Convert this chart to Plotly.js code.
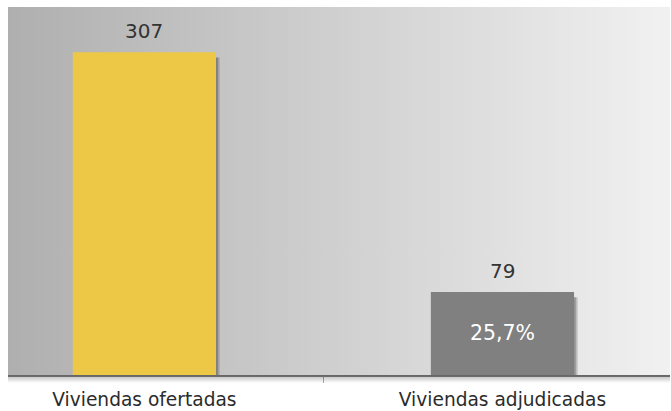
<!DOCTYPE html>
<html>
<head>
<meta charset="utf-8">
<script src="https://cdn.plot.ly/plotly-3.0.1.min.js"></script>
<style>html,body{margin:0;padding:0;background:#fff;}#chart{width:671px;height:411px;}</style>
</head>
<body>
<div id="chart"></div>
<script>
const categories = ["Viviendas ofertadas", "Viviendas adjudicadas"];
const values = [307, 79];
const insideLabels = ["", "25,7%"];
const barColors = ["#ECC846", "#808080"];

function svgUri(svg){ return "data:image/svg+xml;charset=utf-8," + encodeURIComponent(svg); }

const bgSvg = '<svg xmlns="http://www.w3.org/2000/svg" width="100" height="100" preserveAspectRatio="none"><defs><linearGradient id="g" x1="0" y1="0" x2="1" y2="0"><stop offset="0" stop-color="#AFAFAF"/><stop offset="1" stop-color="#F1F1F1"/></linearGradient></defs><rect width="100" height="100" fill="url(#g)"/></svg>';
const shSvg = '<svg xmlns="http://www.w3.org/2000/svg" width="100" height="10" preserveAspectRatio="none"><defs><linearGradient id="s" x1="0" y1="0" x2="0" y2="1"><stop offset="0" stop-color="#000" stop-opacity="0.28"/><stop offset="1" stop-color="#000" stop-opacity="0"/></linearGradient></defs><rect width="100" height="10" fill="url(#s)"/></svg>';

const shadow1 = {
  type: "bar", x: categories, y: values, base: -5,
  width: 0.4, offset: -0.19,
  marker: {color: "rgba(0,0,0,0.18)", line: {width: 0}},
  hoverinfo: "skip", showlegend: false
};
const shadow2 = {
  type: "bar", x: categories, y: values, base: -5,
  width: 0.4, offset: -0.195,
  marker: {color: "rgba(0,0,0,0.2)", line: {width: 0}},
  hoverinfo: "skip", showlegend: false
};
const bars = {
  type: "bar", x: categories, y: values,
  width: 0.4,
  marker: {color: barColors, line: {width: 0}},
  text: insideLabels, textposition: "inside", insidetextanchor: "middle",
  textfont: {family: "DejaVu Sans", size: 20.5, color: "#ffffff"},
  showlegend: false
};

const annotations = categories.map((c, i) => ({
  x: c, y: values[i], xref: "x", yref: "y",
  text: String(values[i]), showarrow: false,
  yanchor: "bottom", yshift: 7,
  font: {family: "DejaVu Sans", size: 20, color: "#333333"}
}));

const layout = {
  width: 671, height: 411,
  margin: {l: 8, r: 1, t: 7, b: 36, pad: 0},
  paper_bgcolor: "#ffffff",
  plot_bgcolor: "rgba(0,0,0,0)",
  barmode: "overlay",
  showlegend: false,
  font: {family: "DejaVu Sans", color: "#333333"},
  xaxis: {
    type: "category", range: [-0.381, 1.468],
    showgrid: false, zeroline: false,
    showline: true, linecolor: "#8c8c8c", linewidth: 2,
    ticks: "outside", tickson: "boundaries", ticklen: 6, tickcolor: "#aaaaaa", tickwidth: 1,
    ticklabelstandoff: 7,
    tickfont: {family: "DejaVu Sans", size: 18.6, color: "#2b2b2b"}
  },
  yaxis: {
    range: [0, 350], visible: false, showgrid: false, zeroline: false
  },
  annotations: annotations,
  images: [
    {source: svgUri(bgSvg), xref: "paper", yref: "paper", x: 0, y: 1, sizex: 1, sizey: 1,
     xanchor: "left", yanchor: "top", sizing: "stretch", layer: "below"},
    {source: svgUri(shSvg), xref: "paper", yref: "paper", x: 0, y: 0, sizex: 1, sizey: 0.022,
     xanchor: "left", yanchor: "top", sizing: "stretch", layer: "above"}
  ]
};

Plotly.newPlot("chart", [shadow2, shadow1, bars], layout, {displayModeBar: false, staticPlot: true});
</script>
</body>
</html>
